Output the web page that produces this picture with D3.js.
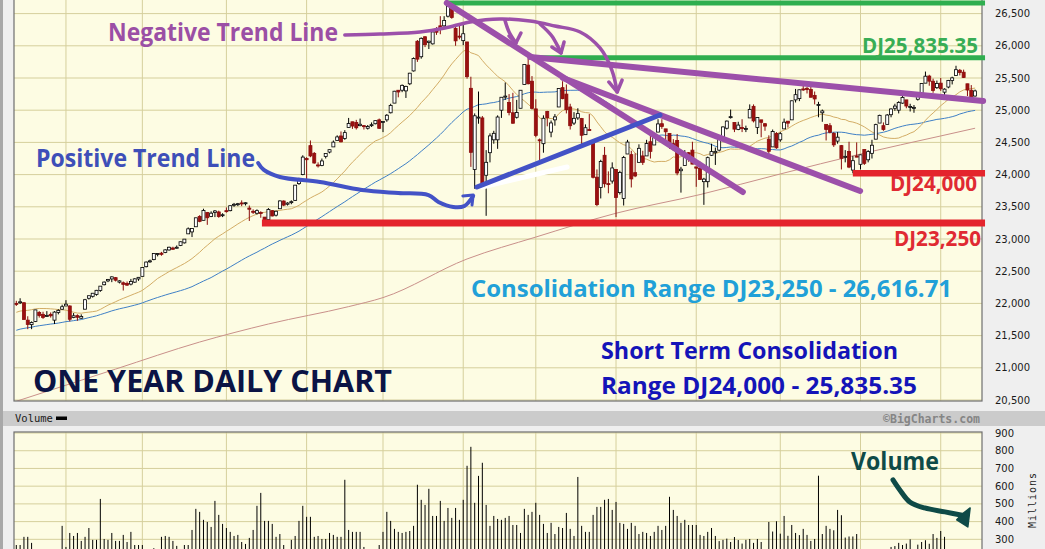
<!DOCTYPE html>
<html><head><meta charset="utf-8">
<script src="https://cdn.jsdelivr.net/npm/d3@7"></script>
<style>body{margin:0;background:#efefef;}svg{display:block}</style>
</head><body>
<svg id="c" width="1045" height="549"></svg>
<script>
// ---------------- DATA ----------------
const holidays = ["2017-09-04","2017-11-23","2017-12-25","2018-01-01","2018-01-15","2018-02-19","2018-03-30","2018-05-28","2018-07-04"];
const priorCloses = [21136,21174,21182,21272,21236,21329,21375,21360,21384,21529,21468,21411,21397,21395,21410,21311,21455,21288,21350,
 21479,21479,21321,21414,21409,21409,21533,21554,21638,21630,21575,21641,21612,21580,21513,21613,21711,21797,21830,21891,
 21964,22016,22026,22093,22118,22085,22049,21844,21858,21993];
const closes = [
 21998,22025,21750,21674,21703,21899,21812,21783,21814,21808,21865,21892,21948,
 21988,21754,21807,21785,21798,22057,22119,22158,22203,22268,22331,22370,22412,22360,22350,22296,22284,22341,22381,22405,
 22557,22642,22661,22775,22774,22762,22831,22872,22841,22872,22957,22998,23158,23163,23329,23274,23442,23330,23401,23435,23349,23377,
 23436,23517,23539,23548,23557,23563,23462,23422,23440,23409,23272,23458,23358,23431,23591,23526,23558,23580,23836,23940,24272,
 24231,24290,24180,24141,24212,24329,24387,24504,24585,24509,24652,24792,24754,24727,24782,24754,24746,24775,24838,24719,
 24824,24922,25075,25295,25283,25386,25370,25575,25803,25793,26116,26018,26072,26215,26211,26253,26393,26617,26440,26077,26149,
 26187,25521,24346,24913,24893,23861,24191,24601,24641,24894,25201,25219,24965,24798,24963,25310,25710,25411,25029,
 24609,24539,24875,24885,24802,24896,25336,25179,25008,24759,24874,24947,24611,24728,24683,23958,23534,24202,23858,23849,24103,
 23644,24034,24264,24505,23933,23979,24408,24190,24484,24361,24574,24787,24748,24665,24463,24448,24025,24084,24323,24311,24163,
 24100,23925,23930,24263,24357,24361,24543,24740,24831,24900,24706,24769,24714,24715,25013,24834,24887,24812,24753,24362,24668,24416,
 24635,24814,24799,25146,25241,25317,25322,25320,25201,25175,25090,24988,24701,24658,24462,24581,24253,24284,24117,24216,24271,
 24307,24175,24357,24456,24776,24920,24700,24925,25019,25064,25120,25199,25065,25058,25044,25242,25415,25528,25451,25307,25415,
 25333,25327,25463,25502,25629,25584,25509,25313,25187,25299];
const opens = [
 22000,22010,22010,21740,21670,21720,21860,21830,21800,21830,21740,21860,21910,
 21960,21960,21780,21810,21770,21910,22080,22110,22140,22200,22290,22350,22380,22400,22330,22320,22310,22300,22330,22380,
 22420,22570,22650,22680,22760,22780,22790,22830,22860,22870,22900,22940,23080,23110,23190,23350,23290,23410,23350,23410,23420,23370,
 23440,23440,23530,23540,23560,23550,23480,23430,23400,23410,23340,23300,23440,23370,23470,23590,23540,23570,23600,23860,24000,
 24250,24450,24330,24150,24140,24280,24350,24430,24530,24600,24560,24730,24820,24810,24760,24760,24720,24770,24790,24850,
 24810,24850,24960,25110,25310,25310,25300,25410,25610,26070,25830,26140,26050,26030,26260,26310,26310,26460,26580,26270,26150,
 26080,26060,25340,24080,24890,24880,23990,24340,24540,24540,25000,25210,25120,24960,24890,25030,25400,25700,25450,
 25020,24540,24480,24980,24660,24850,25050,25350,25250,25050,24800,24880,24870,24620,24700,24520,23960,23800,24300,23860,23900,
 24080,23720,23630,24320,24310,24030,24190,24290,24290,24510,24460,24660,24790,24710,24640,24480,24530,24060,24140,24340,24380,
 24120,24100,23890,23890,24300,24340,24380,24570,24720,24890,24810,24700,24730,24700,24880,25060,24730,24850,24790,24550,24430,24640,
 24540,24710,24830,24850,25160,25180,25330,25340,25320,25230,25080,24960,24780,24760,24640,24520,24450,24270,24360,24070,24290,
 24160,24390,24230,24330,24550,24800,24760,24780,24930,25030,25000,25110,25160,25050,25030,25170,25240,25420,25530,25450,25350,
 25420,25280,25360,25460,25540,25620,25590,25410,25310,25220];
const highs = [
 22040,22080,22020,21800,21720,21900,21880,21870,21880,21860,21880,21910,21980,
 22050,21970,21850,21830,21830,22070,22120,22160,22210,22270,22340,22380,22420,22410,22360,22340,22340,22380,22390,22410,
 22560,22650,22680,22780,22780,22800,22840,22880,22880,22900,22960,23000,23180,23170,23330,23370,23470,23420,23430,23450,23440,23400,
 23490,23520,23560,23560,23600,23570,23520,23460,23460,23430,23340,23480,23450,23440,23600,23600,23570,23600,23840,23950,24300,
 24270,24530,24350,24190,24250,24330,24390,24530,24610,24670,24690,24880,24820,24850,24870,24770,24770,24810,24840,24870,
 24830,24940,25100,25300,25310,25400,25380,25580,25820,26090,26130,26150,26080,26220,26290,26460,26460,26620,26610,26300,26340,
 26340,26060,25520,24950,25290,24910,24380,24640,24680,24920,25200,25430,25250,25270,25160,25310,25710,25800,25530,
 25170,24560,24920,24990,24840,24940,25340,25450,25400,25100,24970,25030,24880,24780,24940,24520,24080,24230,24430,24050,24190,
 24080,24060,24290,24540,24370,24330,24470,24370,24540,24620,24620,24860,24860,24710,24640,24550,24630,24120,24380,24350,24510,
 24120,24200,23950,24280,24480,24420,24550,24750,24840,25010,24810,24820,24860,24760,25090,25090,24890,24850,24800,24610,24700,24660,
 24660,24870,24830,25150,25330,25320,25400,25360,25400,25290,25130,25010,24780,24800,24660,24660,24460,24380,24510,24290,24500,
 24310,24390,24380,24540,24790,24930,24810,24940,25030,25100,25140,25220,25160,25100,25080,25270,25420,25600,25550,25490,25460,
 25500,25340,25470,25520,25690,25640,25630,25410,25390,25320];
const lows = [
 21960,21990,21750,21600,21600,21710,21780,21760,21790,21780,21680,21830,21900,
 21960,21720,21770,21730,21760,21910,22060,22090,22120,22180,22280,22330,22330,22340,22310,22200,22270,22280,22320,22350,
 22420,22560,22630,22670,22730,22740,22780,22820,22830,22850,22890,22930,23080,23030,23190,23260,23290,23220,23340,23340,23330,23340,
 23410,23430,23500,23510,23510,23520,23280,23390,23380,23330,23240,23300,23350,23350,23470,23510,23520,23540,23590,23840,23990,
 23920,24270,24170,24110,24130,24250,24330,24430,24530,24500,24540,24730,24710,24700,24750,24700,24700,24740,24780,24710,
 24660,24820,24950,25110,25200,25280,25190,25390,25600,25750,25800,25980,25950,26020,26170,26180,26270,26440,26420,26000,26100,
 26010,25490,24120,23780,24790,23850,23360,24190,24480,24400,24880,25160,24920,24790,24870,25030,25400,25400,25010,
 24580,24170,24340,24750,24580,24760,25050,25170,24950,24700,24770,24850,24450,24620,24680,23940,23510,23630,23800,23710,23860,
 23340,23690,23520,24320,23800,23960,24190,24150,24290,24250,24460,24660,24710,24480,24400,24370,23990,23720,24140,24200,24160,
 23810,23920,23530,23800,24290,24150,24360,24560,24700,24870,24660,24690,24660,24660,24880,24810,24630,24580,24680,24250,24430,24400,
 24510,24710,24730,24850,25120,25140,25300,25260,25200,25090,24890,24820,24530,24640,24430,24480,24080,24190,24100,24020,24270,
 24080,24150,24190,24250,24550,24800,24680,24780,24890,24990,24950,25100,25030,24980,24960,25150,25190,25420,25380,25270,25330,
 25300,25190,25340,25400,25540,25540,25500,25220,25150,25210];
const volumes = [
 268,268,314,314,280,230,240,230,220,210,235,225,376,
 257,336,319,336,291,314,364,297,297,528,302,297,336,291,291,325,285,342,268,268,268,
 240,245,250,240,314,319,314,291,263,240,268,268,
 353,472,455,410,398,370,517,438,387,364,342,319,325,285,274,308,353,489,562,404,404,387,314,330,268,
 150,
 297,319,404,489,427,427,314,319,302,302,336,325,314,314,636,353,342,342,342,257,
 190,200,210,
 268,342,455,404,359,342,336,342,347,376,608,523,494,585,432,432,517,404,477,421,477,410,523,715,822,506,658,732,494,376,432,415,410,421,432,381,381,
 336,472,438,455,506,438,387,336,393,330,370,364,449,359,319,652,376,342,342,438,483,483,523,528,466,511,393,387,359,393,376,330,342,336,319,342,
 376,353,376,540,466,432,393,410,381,381,381,325,319,342,364,319,290,297,304,285,313,296,276,297,302,280,302,285,240,398,344,402,332,432,320,381,336,324,359,325,291,302,659,330,376,359,351,466,436,310,316,316,330,
 240,150,230,235,238,236,232,236,257,262,280,268,276,300,236,270,285,295,275,330,308,347,314,225,220,230,215,210,225,220,200];
const ma200Idx = [0,26,48,66,87,96,118,136,157,179,200,221,242,251];
const ma200Val = [20480,20980,21400,21680,21950,22090,22690,23030,23400,23690,24010,24320,24600,24720];
const priceTicks = [20500,21000,21500,22000,22500,23000,23500,24000,24500,25000,25500,26000,26500];
const volTicks = [300,400,500,600,700,800,900];

// annotation levels / paths in data space [dayIndex, price]
const levelLines = [
  {from:112.7, to:253.6, value:26665, color:"#2fae4f", w:5},
  {from:135.0, to:253.6, value:25815, color:"#2fae4f", w:5},
  {from:219.0, to:253.6, value:24020, color:"#e4242c", w:6.5},
  {from:64.3,  to:253.6, value:23250, color:"#e4242c", w:7}
];
const purpleLines = [
  [[112.7,26665],[190.2,23730]],
  [[134.5,25826],[253.1,25143]],
  [[143.1,25500],[220.9,23745]]
];
const blueTrend = [[120.6,23807],[168.5,24925]];
const whiteStreak = [[121.9,23807],[144.2,24118]];
const negArrowMain = [[86.0,26168],[95.2,26183],[105.7,26214],[112.2,26276],[118.8,26370],[126.6,26416],[134.5,26385],[141.0,26308],[147.6,26214],[152.8,25966],[155.9,25624],[157.3,25283]];
const negArrowB1 = [[127.9,26401],[129.0,26214],[130.8,26044]];
const negArrowB2 = [[137.1,26339],[140.2,26152],[142.6,25888]];
const negHeads = [
  [[155.1,25438],[157.3,25283],[158.6,25469]],
  [[129.0,26152],[130.8,26044],[132.1,26199]],
  [[140.2,25981],[142.6,25888],[143.4,26059]]
];
const posArrow = [[63.3,24180],[64.8,24072],[69.0,23963],[79.5,23885],[90.5,23761],[100.0,23714],[107.9,23683],[110.5,23575],[114.4,23497],[117.3,23513],[119.6,23668]];
const posHead = [[116.9,23668],[119.6,23683],[119.3,23528]];
const volArrow = [[229.5,636],[231.3,579],[233.9,511],[237.8,477],[243.1,455],[247.6,436]];
const volHead = [[247.6,443],[249.7,477],[249.1,370],[246.2,410]];

// ---------------- BUILD ----------------
const dates = [];
(function(){
  const hs = new Set(holidays);
  for (let d = new Date(Date.UTC(2017,7,15)); d <= new Date(Date.UTC(2018,7,14)); d.setUTCDate(d.getUTCDate()+1)) {
    const wd = d.getUTCDay(); const s = d.toISOString().slice(0,10);
    if (wd!==0 && wd!==6 && !hs.has(s)) dates.push(new Date(d));
  }
})();
const data = closes.map((c,i)=>({i, date:dates[i], o:opens[i], h:highs[i], l:lows[i], c, v:volumes[i]}));
const allCloses = priorCloses.concat(closes);
function sma(n){ return closes.map((c,i)=>{ const e=priorCloses.length+i; return [i, d3.mean(allCloses.slice(e-n+1,e+1))]; }); }
const ma20 = sma(20), ma50 = sma(50);
const ma200 = ma200Idx.map((d,k)=>[d, ma200Val[k]]);
const monthStarts = data.filter((d,k)=>k>0 && d.date.getUTCMonth()!==data[k-1].date.getUTCMonth()).map(d=>d.i);

const L=14, R=982, PT=-2, PB=401, VT=432, VB=552;
const x = d3.scaleLinear().domain([0,251]).range([16.3,975.1]);
const y = d3.scaleLinear().domain([20500,26500]).range([400,13.6]);
const yv = d3.scaleLinear().domain([0,900]).range([592.5,433]);

const svg = d3.select("#c");
const defs = svg.append("defs");
defs.append("clipPath").attr("id","cp").append("rect").attr("x",L).attr("y",PT).attr("width",R-L).attr("height",PB-PT);
defs.append("clipPath").attr("id","cv").append("rect").attr("x",L).attr("y",VT).attr("width",R-L).attr("height",VB-VT);

// page frame
svg.append("rect").attr("width",1045).attr("height",549).attr("fill","#efefef");
svg.append("rect").attr("x",0).attr("y",0).attr("width",3).attr("height",549).attr("fill","#a8a8a8");
svg.append("rect").attr("x",3).attr("y",411).attr("width",1042).attr("height",15).attr("fill","#cbcbcb");

// panels
svg.append("rect").attr("x",L).attr("y",PT).attr("width",R-L).attr("height",PB-PT).attr("fill","#fdfce3");
svg.append("rect").attr("x",L).attr("y",VT).attr("width",R-L).attr("height",VB-VT).attr("fill","#fdfce3");

const grid = "#d5cf9c";
const gp = svg.append("g").attr("clip-path","url(#cp)");
gp.selectAll("line.h").data(priceTicks).join("line").attr("x1",L).attr("x2",R).attr("y1",d=>y(d)).attr("y2",d=>y(d)).attr("stroke",grid).attr("stroke-width",1);
gp.selectAll("line.v").data(monthStarts).join("line").attr("x1",d=>x(d)).attr("x2",d=>x(d)).attr("y1",PT).attr("y2",PB).attr("stroke",grid).attr("stroke-width",1);
const gv = svg.append("g").attr("clip-path","url(#cv)");
gv.selectAll("line.h").data(volTicks).join("line").attr("x1",L).attr("x2",R).attr("y1",d=>yv(d)).attr("y2",d=>yv(d)).attr("stroke",grid);
gv.selectAll("line.v").data(monthStarts).join("line").attr("x1",d=>x(d)).attr("x2",d=>x(d)).attr("y1",VT).attr("y2",VB).attr("stroke",grid);

// moving averages
const straight = d3.line().x(d=>x(d[0])).y(d=>y(d[1]));
const smooth = d3.line().x(d=>x(d[0])).y(d=>y(d[1])).curve(d3.curveMonotoneX);
const curvy = d3.line().x(d=>x(d[0])).y(d=>y(d[1])).curve(d3.curveCatmullRom);
gp.append("path").datum(ma200).attr("d",smooth).attr("fill","none").attr("stroke","#c9908a").attr("stroke-width",1);
gp.append("path").datum(ma50).attr("d",straight).attr("fill","none").attr("stroke","#3f80c6").attr("stroke-width",1);
gp.append("path").datum(ma20).attr("d",straight).attr("fill","none").attr("stroke","#d3ad66").attr("stroke-width",1);

// candles
const cs = gp.append("g").selectAll("g").data(data).join("g");
cs.append("line").attr("x1",d=>x(d.i)).attr("x2",d=>x(d.i)).attr("y1",d=>y(d.h)).attr("y2",d=>y(d.l))
  .attr("stroke",d=>d.c>=d.o?"#000":"#8a0c0c").attr("stroke-width",1);
cs.append("rect").attr("x",d=>x(d.i)-1.5).attr("width",3)
  .attr("y",d=>y(Math.max(d.o,d.c))).attr("height",d=>Math.max(1,Math.abs(y(d.o)-y(d.c))))
  .attr("fill",d=>d.c>=d.o?"#fff":"#9b1010").attr("stroke",d=>d.c>=d.o?"#000":"#8a0c0c").attr("stroke-width",0.8);

// volume bars
gv.selectAll("line.b").data(data).join("line").attr("x1",d=>x(d.i)).attr("x2",d=>x(d.i)).attr("y1",d=>yv(d.v)).attr("y2",yv(0)).attr("stroke","#000").attr("stroke-width",1);

// panel borders
svg.append("rect").attr("x",L).attr("y",PT).attr("width",R-L).attr("height",PB-PT).attr("fill","none").attr("stroke","#6e6e6e").attr("stroke-width",1.2);
svg.append("rect").attr("x",L).attr("y",VT).attr("width",R-L).attr("height",VB-VT).attr("fill","none").attr("stroke","#6e6e6e").attr("stroke-width",1.2);

// axis labels
const ax = svg.append("g").attr("font-family","'DejaVu Sans',Verdana,sans-serif").attr("font-size",10).attr("fill","#1a1a1a");
ax.selectAll("text.p").data(priceTicks).join("text").attr("x",995).attr("y",d=>y(d)+3.5).text(d3.format(","));
ax.selectAll("text.v").data(volTicks).join("text").attr("x",995).attr("y",d=>yv(d)+3.5).text(d=>d);
svg.append("text").attr("transform","translate(1036,500) rotate(-90)").attr("text-anchor","middle")
  .attr("font-family","'DejaVu Sans Mono',monospace").attr("font-size",10).attr("fill","#222").attr("letter-spacing",1).text("Millions");
svg.append("text").attr("x",15).attr("y",422).attr("font-family","'DejaVu Sans Mono',monospace").attr("font-size",10.5).attr("fill","#1a1a1a").text("Volume");
svg.append("rect").attr("x",56).attr("y",416.5).attr("width",11).attr("height",3.5).attr("fill","#000");
svg.append("text").attr("x",980).attr("y",423).attr("text-anchor","end").attr("font-family","'DejaVu Sans Mono',monospace").attr("font-weight","bold").attr("font-size",11.5).attr("fill","#858585").text("\u00A9BigCharts.com");

// annotations
const an = svg.append("g").attr("fill","none").attr("stroke-linecap","round").attr("stroke-linejoin","round");
an.selectAll("line.lv").data(levelLines).join("line").attr("x1",d=>x(d.from)).attr("x2",d=>x(d.to)).attr("y1",d=>y(d.value)).attr("y2",d=>y(d.value))
  .attr("stroke",d=>d.color).attr("stroke-width",d=>d.w).attr("stroke-linecap","butt");
const purple = "#9c50aa";
an.selectAll("path.pl").data(purpleLines).join("path").attr("d",straight).attr("stroke",purple).attr("stroke-width",6);
an.append("path").datum(whiteStreak).attr("d",straight).attr("stroke","#ffffff").attr("stroke-width",5);
an.append("path").datum(blueTrend).attr("d",straight).attr("stroke","#4352c6").attr("stroke-width",5);
an.append("path").datum(negArrowMain).attr("d",curvy).attr("stroke",purple).attr("stroke-width",3.5);
an.append("path").datum(negArrowB1).attr("d",curvy).attr("stroke",purple).attr("stroke-width",3.5);
an.append("path").datum(negArrowB2).attr("d",curvy).attr("stroke",purple).attr("stroke-width",3.5);
an.selectAll("path.nh").data(negHeads).join("path").attr("d",straight).attr("stroke",purple).attr("stroke-width",3.5);
an.append("path").datum(posArrow).attr("d",curvy).attr("stroke","#4352c6").attr("stroke-width",4);
an.append("path").datum(posHead).attr("d",straight).attr("stroke","#4352c6").attr("stroke-width",3);
const vStraight = d3.line().x(d=>x(d[0])).y(d=>yv(d[1]));
const vCurvy = d3.line().x(d=>x(d[0])).y(d=>yv(d[1])).curve(d3.curveCatmullRom);
an.append("path").datum(volArrow).attr("d",vCurvy).attr("stroke","#0e4a47").attr("stroke-width",5);
an.append("path").datum(volHead).attr("d",d=>vStraight(d)+"Z").attr("fill","#0e4a47").attr("stroke","#0e4a47").attr("stroke-width",1.5);

// texts
const texts = [
  {t:"Negative Trend Line", x:108, y:41, s:25, w:230, c:"#9b4fa5"},
  {t:"Positive Trend Line", x:36, y:167, s:25, w:219, c:"#3e4fb8"},
  {t:"ONE YEAR DAILY CHART", x:33, y:392, s:30, w:359, c:"#0b1445"},
  {t:"Consolidation Range DJ23,250 - 26,616.71", x:471, y:297, s:24, w:481, c:"#21a0d8"},
  {t:"Short Term Consolidation", x:601, y:359, s:23.5, w:297, c:"#1414b8"},
  {t:"Range DJ24,000 - 25,835.35", x:601, y:394, s:23.5, w:316, c:"#1414b8"},
  {t:"DJ25,835.35", x:862, y:53, s:21, w:116, c:"#38ad55"},
  {t:"DJ24,000", x:890, y:191, s:21, w:87, c:"#e02a32"},
  {t:"DJ23,250", x:894, y:246, s:21, w:87, c:"#e02a32"},
  {t:"Volume", x:851, y:470, s:25, w:88, c:"#0e4b48"}
];
svg.append("g").selectAll("text").data(texts).join("text")
  .attr("x",d=>d.x).attr("y",d=>d.y).attr("font-family","'Open Sans',sans-serif").attr("font-weight",700)
  .attr("font-size",d=>d.s).attr("fill",d=>d.c).attr("textLength",d=>d.w).attr("lengthAdjust","spacingAndGlyphs").text(d=>d.t);
</script>
</body></html>
